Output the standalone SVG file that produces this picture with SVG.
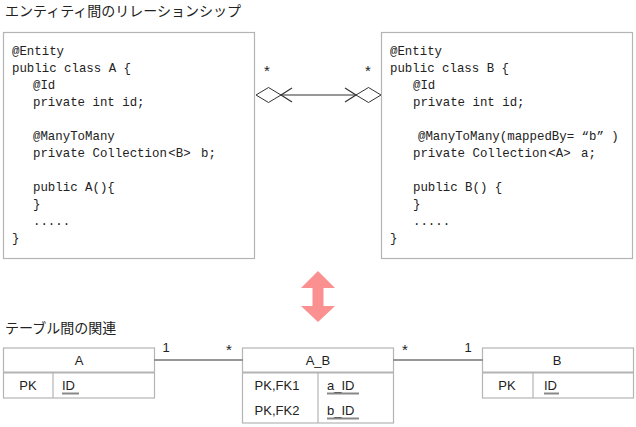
<svg xmlns="http://www.w3.org/2000/svg" width="636" height="427" viewBox="0 0 636 427">
<style>
.ttl{font-family:"Noto Sans CJK JP","Noto Sans CJK SC",sans-serif;font-size:14px;fill:#222}
.code{font-family:"Liberation Mono","DejaVu Sans Mono",monospace;font-size:12.4px;fill:#222}
.box{fill:#fff;stroke:#b4b4b4;stroke-width:1.2}
.tb{fill:#fff;stroke:#b4b4b4;stroke-width:1.2}
.hd{stroke:#b4b4b4;stroke-width:2}
.col{stroke:#b4b4b4;stroke-width:1.2}
.t{font-family:"Liberation Sans","Noto Sans",sans-serif;font-size:13px;fill:#222}
.m{text-anchor:middle}
.ul{stroke:#888;stroke-width:2}
.ln{stroke:#333;stroke-width:1.2;fill:none}
.dia{fill:#fff;stroke:#333;stroke-width:1}
.st{font-family:"Liberation Sans","Noto Sans",sans-serif;font-size:15px;fill:#222;text-anchor:middle}
</style>
<rect width="636" height="427" fill="#fff"/>
<text class="ttl" x="5" y="16">エンティティ間のリレーションシップ</text>
<text class="ttl" x="5" y="333">テーブル間の関連</text>

<g id="entityA">
<rect class="box" x="3.5" y="32.5" width="251" height="226"/>
<text class="code" x="12" y="55">@Entity</text>
<text class="code" x="12" y="72">public class A {</text>
<text class="code" x="33" y="89">@Id</text>
<text class="code" x="33" y="106">private int id;</text>
<text class="code" x="33" y="140">@ManyToMany</text>
<text class="code" x="33" y="157">private Collection<tspan dx="1.5">&lt;B&gt;</tspan><tspan dx="3"> b;</tspan></text>
<text class="code" x="33" y="191">public A(){</text>
<text class="code" x="33" y="208">}</text>
<text class="code" x="33" y="225">.....</text>
<text class="code" x="12" y="242">}</text>
</g>

<g id="entityB">
<rect class="box" x="381.5" y="32.5" width="251" height="226"/>
<text class="code" x="390" y="55">@Entity</text>
<text class="code" x="390" y="72">public class B {</text>
<text class="code" x="413" y="89">@Id</text>
<text class="code" x="413" y="106">private int id;</text>
<text class="code" x="418" y="140">@ManyToMany(mappedBy= “b” )</text>
<text class="code" x="413" y="157">private Collection<tspan dx="1.5">&lt;A&gt;</tspan><tspan dx="3"> a;</tspan></text>
<text class="code" x="413" y="191">public B() {</text>
<text class="code" x="413" y="208">}</text>
<text class="code" x="413" y="225">.....</text>
<text class="code" x="390" y="242">}</text>
</g>

<g id="tableA">
<rect class="tb" x="3.5" y="348" width="151" height="50"/>
<line class="hd" x1="3.5" y1="372.5" x2="154.5" y2="372.5"/>
<line class="col" x1="53" y1="373" x2="53" y2="398"/>
<text class="t m" x="79" y="365">A</text>
<text class="t m" x="28" y="390">PK</text>
<text class="t" x="62" y="390">ID</text>
<line class="ul" x1="62" y1="393.5" x2="79" y2="393.5"/>
</g>

<g id="tableAB">
<rect class="tb" x="242.5" y="348" width="151" height="75"/>
<line class="hd" x1="242.5" y1="372.5" x2="393.5" y2="372.5"/>
<line class="col" x1="318" y1="373" x2="318" y2="423"/>
<text class="t m" x="318" y="365">A_B</text>
<text class="t m" x="277" y="390">PK,FK1</text>
<text class="t m" x="277" y="415">PK,FK2</text>
<text class="t" x="327" y="390">a_ID</text>
<line class="ul" x1="327" y1="393.5" x2="359" y2="393.5"/>
<text class="t" x="327" y="415">b_ID</text>
<line class="ul" x1="327" y1="418.5" x2="359" y2="418.5"/>
</g>

<g id="tableB">
<rect class="tb" x="482.5" y="348" width="151" height="50"/>
<line class="hd" x1="482.5" y1="372.5" x2="633.5" y2="372.5"/>
<line class="col" x1="533" y1="373" x2="533" y2="398"/>
<text class="t m" x="557" y="365">B</text>
<text class="t m" x="507" y="390">PK</text>
<text class="t" x="544" y="390">ID</text>
<line class="ul" x1="544" y1="393.5" x2="559" y2="393.5"/>
</g>

<g id="connectors">
<line class="ln" x1="281" y1="95" x2="356" y2="95"/>
<polygon class="dia" points="256,95 268.5,87.5 281,95 268.5,102.5"/>
<polygon class="dia" points="356,95 368.5,87.5 381,95 368.5,102.5"/>
<polyline class="ln" points="292,88 281,95 292,102"/>
<polyline class="ln" points="345,88 356,95 345,102"/>
<text class="st" x="267" y="76">*</text>
<text class="st" x="368" y="76">*</text>
<line class="ln" x1="154.5" y1="360" x2="242.5" y2="360"/>
<line class="ln" x1="393.5" y1="360" x2="482.5" y2="360"/>
<text class="t m" x="166" y="352">1</text>
<text class="st" x="229" y="355">*</text>
<text class="st" x="405" y="355">*</text>
<text class="t m" x="468" y="352">1</text>
<polygon fill="#fb9090" points="318,271 335,288 323.5,288 323.5,306 335,306 318,322 301,306 312.5,306 312.5,288 301,288"/>
</g>
</svg>
